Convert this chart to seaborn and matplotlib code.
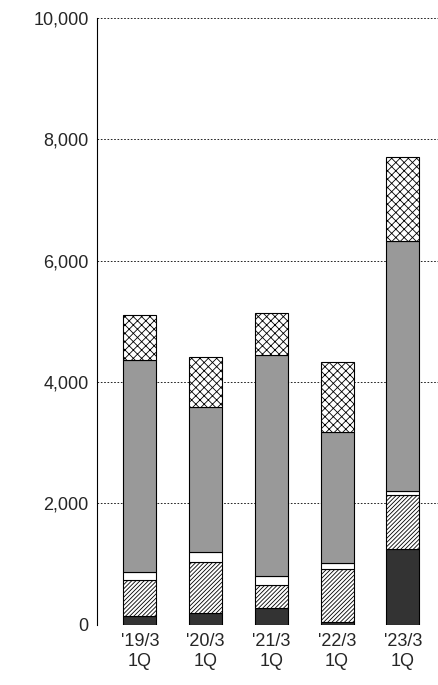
import numpy as np
import matplotlib.pyplot as plt
import seaborn as sns

sns.set_style("white")
plt.rcParams["font.family"] = ["Liberation Sans", "DejaVu Sans"]
plt.rcParams["hatch.linewidth"] = 0.6

categories = ["'19/3\n1Q", "'20/3\n1Q", "'21/3\n1Q", "'22/3\n1Q", "'23/3\n1Q"]
seg_black = [150, 200, 280, 40, 1250]
seg_hatch = [590, 840, 380, 880, 890]
seg_white = [130, 160, 140, 100, 60]
seg_gray = [3500, 2390, 3650, 2160, 4130]
seg_cross = [740, 820, 690, 1150, 1370]

segments = [
    (seg_black, "#333333", None),
    (seg_hatch, "white", "////////"),
    (seg_white, "white", None),
    (seg_gray, "#999999", None),
    (seg_cross, "white", "xxxx"),
]

fig = plt.figure(figsize=(4.39, 6.85), dpi=100)
ax = fig.add_axes([0.221, 0.088, 0.779, 0.886])

x = np.arange(len(categories))
bottom = np.zeros(len(categories))
for vals, color, hatch in segments:
    ax.bar(x, vals, bottom=bottom, width=0.5, color=color, hatch=hatch,
           edgecolor="black", linewidth=0.8, zorder=3)
    bottom += np.array(vals)

ax.set_ylim(0, 10000)
ax.set_xlim(-0.65, 4.55)
ax.set_yticks(range(0, 10001, 2000))
ax.set_yticklabels([f"{v:,}" for v in range(0, 10001, 2000)], fontsize=13)
ax.set_xticks(x)
ax.set_xticklabels(categories, fontsize=13)
ax.yaxis.grid(True, linestyle=(0, (2, 2)), color="black", linewidth=0.6, zorder=0)
for s in ["top", "right", "bottom"]:
    ax.spines[s].set_visible(False)
ax.spines["left"].set_color("black")
ax.tick_params(axis="both", length=0, pad=6)

fig.savefig("out.png", dpi=100)
